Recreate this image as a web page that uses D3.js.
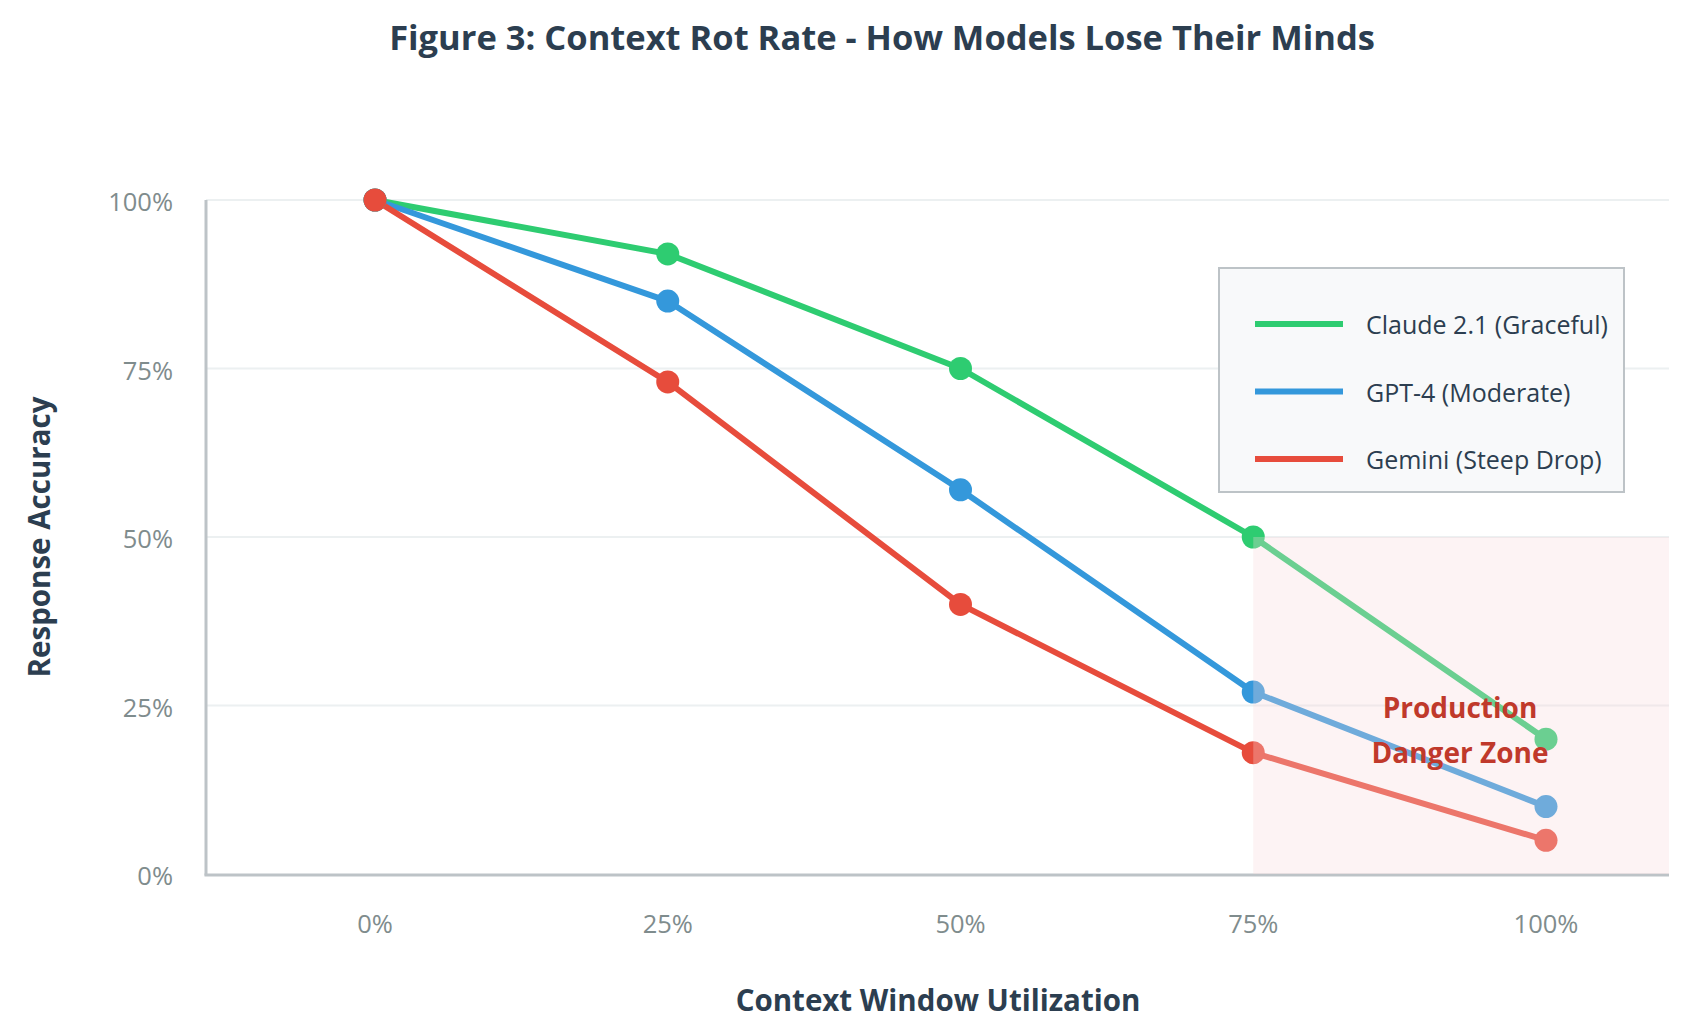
<!DOCTYPE html>
<html>
<head>
<meta charset="utf-8">
<script src="https://cdn.jsdelivr.net/npm/d3@7"></script>
<style>
  html, body { margin: 0; padding: 0; background: #fff; }
  svg { display: block; font-family: "Segoe UI", "Open Sans", "Noto Sans", sans-serif; }
</style>
</head>
<body>
<svg id="chart" width="1708" height="1027"></svg>
<script>
// context window utilization (%)
const utilization = [0, 25, 50, 75, 100];
const claude = [100, 92, 75, 50, 20];
const gpt4 = [100, 85, 57, 27, 10];
const gemini = [100, 73, 40, 18, 5];
const yTicks = [0, 25, 50, 75, 100];
const seriesNames = ['Claude 2.1 (Graceful)', 'GPT-4 (Moderate)', 'Gemini (Steep Drop)'];
const dangerStart = 75;
const dangerTop = 50;

const colors = ['#2ecc71', '#3498db', '#e74c3c'];
const series = [claude, gpt4, gemini].map((vals, i) => ({
  name: seriesNames[i],
  color: colors[i],
  points: vals.map((v, j) => ({ x: utilization[j], y: v })),
}));

const svg = d3.select('#chart');
const plot = { left: 206, right: 1669, top: 200, bottom: 874 };

const x = d3.scaleLinear().domain([0, 100]).range([375, 1546]);
const y = d3.scaleLinear().domain([0, 100]).range([plot.bottom, plot.top]);

// title
svg.append('text')
  .attr('x', 882)
  .attr('y', 50)
  .attr('text-anchor', 'middle')
  .attr('font-size', 34.5)
  .attr('font-weight', 700)
  .attr('fill', '#2c3e50')
  .text('Figure 3: Context Rot Rate - How Models Lose Their Minds');

// grid
svg.append('g')
  .selectAll('line')
  .data(yTicks.filter((d) => d > 0))
  .join('line')
    .attr('x1', plot.left)
    .attr('x2', plot.right)
    .attr('y1', (d) => y(d))
    .attr('y2', (d) => y(d))
    .attr('stroke', '#ecf0f1')
    .attr('stroke-width', 2);

// y tick labels
svg.append('g')
  .selectAll('text')
  .data(yTicks)
  .join('text')
    .attr('x', 173)
    .attr('y', (d) => y(d) + 11)
    .attr('text-anchor', 'end')
    .attr('font-size', 25.5)
    .attr('fill', '#7f8c8d')
    .text((d) => `${d}%`);

// x tick labels
svg.append('g')
  .selectAll('text')
  .data(utilization)
  .join('text')
    .attr('x', (d) => x(d))
    .attr('y', 933)
    .attr('text-anchor', 'middle')
    .attr('font-size', 25.5)
    .attr('fill', '#7f8c8d')
    .text((d) => `${d}%`);

// axes
svg.append('line')
  .attr('x1', plot.left).attr('x2', plot.left)
  .attr('y1', plot.top).attr('y2', plot.bottom + 1.5)
  .attr('stroke', '#bdc3c7')
  .attr('stroke-width', 3);
svg.append('line')
  .attr('x1', plot.left - 1.5).attr('x2', plot.right)
  .attr('y1', plot.bottom + 1).attr('y2', plot.bottom + 1)
  .attr('stroke', '#bdc3c7')
  .attr('stroke-width', 3);

// lines + markers
const line = d3.line()
  .x((d) => x(d.x))
  .y((d) => y(d.y));

const g = svg.append('g');
series.forEach((s) => {
  g.append('path')
    .datum(s.points)
    .attr('d', line)
    .attr('fill', 'none')
    .attr('stroke', s.color)
    .attr('stroke-width', 6)
    .attr('stroke-linejoin', 'round');
});
series.forEach((s) => {
  g.selectAll(null)
    .data(s.points)
    .join('circle')
      .attr('cx', (d) => x(d.x))
      .attr('cy', (d) => y(d.y))
      .attr('r', 11.5)
      .attr('fill', s.color);
});

// danger zone overlay (drawn on top, fades the lines)
svg.append('rect')
  .attr('x', x(dangerStart))
  .attr('y', y(dangerTop))
  .attr('width', plot.right - x(dangerStart))
  .attr('height', y(0) - y(dangerTop))
  .attr('fill', '#f8d7da')
  .attr('opacity', 0.3);

svg.append('text')
  .attr('x', 1460)
  .attr('text-anchor', 'middle')
  .attr('font-size', 28)
  .attr('font-weight', 700)
  .attr('fill', '#c0392b')
  .selectAll('tspan')
  .data(['Production', 'Danger Zone'])
  .join('tspan')
    .attr('x', 1460)
    .attr('y', (d, i) => 718 + i * 45)
    .text((d) => d);

// axis titles
svg.append('text')
  .attr('x', 938)
  .attr('y', 1011)
  .attr('text-anchor', 'middle')
  .attr('font-size', 29.5)
  .attr('font-weight', 700)
  .attr('fill', '#2c3e50')
  .text('Context Window Utilization');

svg.append('text')
  .attr('transform', 'translate(50,537) rotate(-90)')
  .attr('text-anchor', 'middle')
  .attr('font-size', 29.5)
  .attr('font-weight', 700)
  .attr('fill', '#2c3e50')
  .text('Response Accuracy');

// legend
const legend = svg.append('g');
legend.append('rect')
  .attr('x', 1219)
  .attr('y', 268)
  .attr('width', 405)
  .attr('height', 224)
  .attr('fill', '#f8f9fa')
  .attr('stroke', '#bdc3c7')
  .attr('stroke-width', 2);

const item = legend.selectAll('g')
  .data(series)
  .join('g')
    .attr('transform', (d, i) => `translate(0,${324 + i * 67.5})`);
item.append('line')
  .attr('x1', 1255)
  .attr('x2', 1343)
  .attr('stroke', (d) => d.color)
  .attr('stroke-width', 6);
item.append('text')
  .attr('x', 1366)
  .attr('y', 10)
  .attr('font-size', 25)
  .attr('fill', '#2c3e50')
  .text((d) => d.name);
</script>
</body>
</html>
